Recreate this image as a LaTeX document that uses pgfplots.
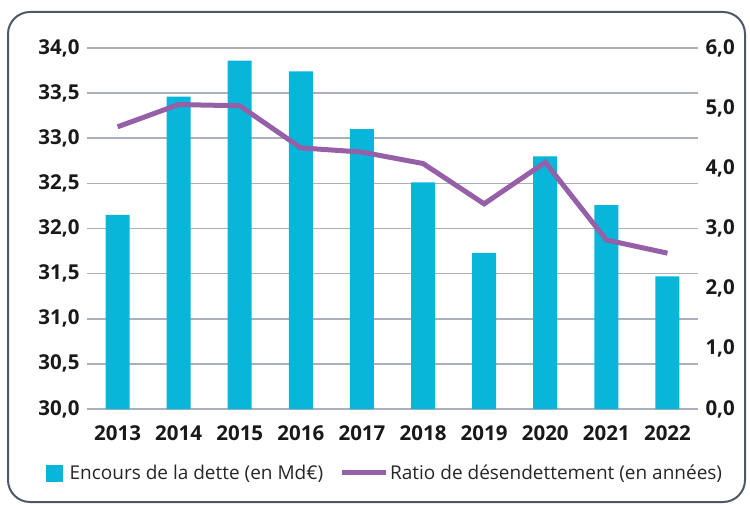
\documentclass[border=0pt]{standalone}
\usepackage{fontspec}
\setmainfont{Open Sans}
\usepackage{pgfplots}
\pgfplotsset{compat=1.18}
\definecolor{barc}{HTML}{08B6DA}
\definecolor{linec}{HTML}{9660A8}
\definecolor{gridc}{HTML}{ABB0BE}
\definecolor{framec}{HTML}{4F5866}
\pgfplotsset{
  common/.style={
    at={(87pt,95pt)}, anchor=south west, scale only axis,
    width=611pt, height=361pt,
    xmin=-0.5, xmax=9.5,
    axis line style={draw=none},
    major tick length=0pt,
    /pgf/number format/.cd, fixed, fixed zerofill, precision=1, use comma, assume math mode=true,
    /pgfplots/.cd,
    ticklabel style={font=\fontsize{20.5}{24}\selectfont\bfseries, text=black!90},
  }
}
\begin{document}
\begin{tikzpicture}
\useasboundingbox (0pt,0pt) rectangle (750pt,504pt);
\draw[framec, line width=2pt, rounded corners=22pt] (8pt,2pt) rectangle (745pt,492pt);
\begin{axis}[common,
  ymin=30, ymax=34,
  ytick={30,30.5,31,31.5,32,32.5,33,33.5,34},
  ymajorgrids, major grid style={gridc, line width=1.6pt},
  yticklabel style={xshift=-4pt},
  xtick={0,...,9},
  xticklabels={2013,2014,2015,2016,2017,2018,2019,2020,2021,2022},
  xticklabel style={yshift=-13pt},
]
\addplot[ybar, bar width=24pt, fill=barc, draw=none, bar shift=0pt] coordinates {
(0,32.15) (1,33.46) (2,33.86) (3,33.74) (4,33.10) (5,32.51) (6,31.73) (7,32.80) (8,32.26) (9,31.47)};
\end{axis}
\begin{axis}[common,
  ymin=0, ymax=6,
  ytick={0,1,2,3,4,5,6},
  axis y line*=right,
  hide x axis,
  yticklabel style={xshift=4pt},
  legend style={at={(0.488,-0.177)}, anchor=center, draw=none, fill=none,
    font=\fontsize{19}{23}\selectfont, text=black!85, legend columns=2,
    /tikz/every even column/.append style={column sep=14pt}},
]
\addlegendimage{legend image code/.code={\fill[barc] (0pt,-8pt) rectangle (16pt,8pt); \path (21pt,0pt);}}
\addlegendentry{Encours de la dette (en Md€)}
\addlegendimage{legend image code/.code={\draw[linec, line width=5pt] (0pt,0pt) -- (44pt,0pt);}}
\addlegendentry{Ratio de désendettement (en années)}
\addplot[linec, line width=5pt, forget plot] coordinates {
(0,4.69) (1,5.06) (2,5.04) (3,4.34) (4,4.27) (5,4.08) (6,3.41) (7,4.10) (8,2.81) (9,2.59)};
\end{axis}
\end{tikzpicture}
\end{document}
